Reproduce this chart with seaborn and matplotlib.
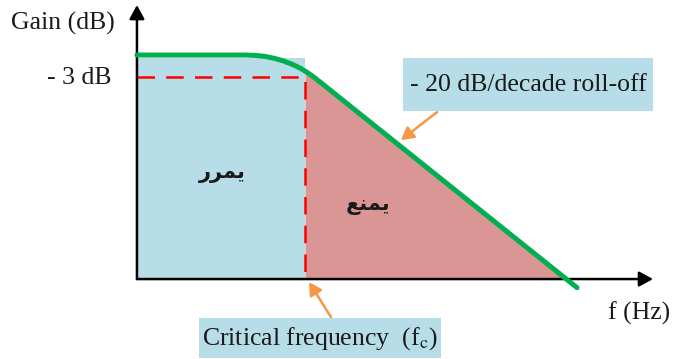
import numpy as np
import pandas as pd
import seaborn as sns
import matplotlib.pyplot as plt
from matplotlib.patches import Rectangle

# Low-pass response: frequency in decades (fc = 1), gain in dB
freq_decades = [0.0, 0.643, 0.703, 0.761, 0.816, 0.869, 0.920, 0.969, 1.015, 1.060, 2.619]
gain_db = [0.0, 0.0, -0.05, -0.19, -0.45, -0.80, -1.25, -1.79, -2.44, -3.19, -32.3]

cutoff_decade = 1.0
cutoff_gain_db = -3.0
axis_floor_db = -31.1
passband_top_db = -0.42

axis_labels = ["Gain (dB)", "f (Hz)"]
level_label = "- 3 dB"
slope_label = "- 20 dB/decade roll-off"
fc_label = r"Critical frequency  (f$_\mathrm{c}$)"
pass_label = "يمرر"
stop_label = "يمنع"

# Arabic contextual forms (isolated, final, initial, medial)
ARABIC_FORMS = {
    "ي": (0xFEF1, 0xFEF2, 0xFEF3, 0xFEF4),
    "م": (0xFEE1, 0xFEE2, 0xFEE3, 0xFEE4),
    "ن": (0xFEE5, 0xFEE6, 0xFEE7, 0xFEE8),
    "ع": (0xFEC9, 0xFECA, 0xFECB, 0xFECC),
    "ر": (0xFEAD, 0xFEAE, None, None),
}


def shape_arabic(word):
    out = []
    for i, ch in enumerate(word):
        forms = ARABIC_FORMS[ch]
        prev_joins = i > 0 and ARABIC_FORMS[word[i - 1]][2] is not None
        next_joins = i < len(word) - 1 and forms[2] is not None
        if prev_joins and next_joins:
            code = forms[3]
        elif next_joins:
            code = forms[2]
        elif prev_joins:
            code = forms[1]
        else:
            code = forms[0]
        out.append(chr(code))
    return "".join(reversed(out))


sns.set_theme(style="white")
plt.rcParams["font.family"] = ["Liberation Serif", "DejaVu Sans"]
plt.rcParams["mathtext.fontset"] = "stix"

fig = plt.figure(figsize=(6.73, 3.59), dpi=100)
ax = fig.add_axes([0, 0, 1, 1])
ax.set_xlim(-0.815, 3.19)
ax.set_ylim(-42.2, 7.64)
ax.axis("off")

curve = pd.DataFrame({"f": freq_decades, "gain": gain_db})
freq = np.array(freq_decades)
gain = np.array(gain_db)

# Pass band (light blue) and stop band (red) regions
ax.add_patch(Rectangle((0, axis_floor_db), cutoff_decade, passband_top_db - axis_floor_db,
                       facecolor="#B7DDE8", edgecolor="none", zorder=1))
x_cross = np.interp(axis_floor_db, gain[::-1], freq[::-1])
xs = np.linspace(cutoff_decade, x_cross, 300)
ax.fill_between(xs, np.interp(xs, freq, gain), axis_floor_db,
                color="#D99694", linewidth=0, zorder=1)

# -3 dB guide lines
ax.plot([0, cutoff_decade, cutoff_decade], [cutoff_gain_db, cutoff_gain_db, axis_floor_db],
        color="#FF0000", lw=1.8, dashes=(7, 4.5), zorder=2)

# Response curve
sns.lineplot(data=curve, x="f", y="gain", ax=ax, color="#00B050", lw=3.6,
             sort=False, estimator=None, zorder=4)
ax.set_xlabel("")
ax.set_ylabel("")

# Axes with arrow heads
arrow = dict(arrowstyle="-|>,head_length=0.55,head_width=0.3", color="black",
             lw=1.8, shrinkA=0, shrinkB=0, mutation_scale=15)
ax.annotate("", xy=(0, 6.94), xytext=(0, axis_floor_db), arrowprops=arrow, zorder=3)
ax.annotate("", xy=(3.071, axis_floor_db), xytext=(0, axis_floor_db), arrowprops=arrow, zorder=3)

fs = 18.5
ax.text(-0.131, 4.44, axis_labels[0], ha="right", va="center", fontsize=fs, color="#1a1a1a")
ax.text(3.173, -35.8, axis_labels[1], ha="right", va="center", fontsize=fs, color="#1a1a1a")
ax.text(-0.149, -3.19, level_label, ha="right", va="center", fontsize=fs, color="#1a1a1a")

# Callout boxes
ax.add_patch(Rectangle((1.583, -7.78), 1.488, 7.36, facecolor="#B7DDE8", edgecolor="none", zorder=2))
ax.text(2.327, -4.17, slope_label, ha="center", va="center", fontsize=fs, color="#1a1a1a", zorder=5)
ax.add_patch(Rectangle((0.369, -42.08), 1.441, 5.55, facecolor="#B7DDE8", edgecolor="none", zorder=2))
ax.text(1.089, -39.3, fc_label, ha="center", va="center", fontsize=fs, color="#1a1a1a", zorder=5)

callout = dict(arrowstyle="-|>,head_length=0.5,head_width=0.28", color="#F79646",
               lw=1.8, shrinkA=0, shrinkB=0, mutation_scale=15)
ax.annotate("", xy=(1.571, -11.81), xytext=(1.786, -7.92), arrowprops=callout, zorder=5)
ax.annotate("", xy=(1.024, -31.53), xytext=(1.155, -36.39), arrowprops=callout, zorder=5)

# Band labels
ax.text(0.506, -16.4, shape_arabic(pass_label), ha="center", va="center", fontsize=15,
        fontweight="bold", family=["DejaVu Sans"], color="#1a1a1a", zorder=5)
ax.text(1.375, -20.8, shape_arabic(stop_label), ha="center", va="center", fontsize=15,
        fontweight="bold", family=["DejaVu Sans"], color="#1a1a1a", zorder=5)

fig.savefig("out.png", dpi=100)
